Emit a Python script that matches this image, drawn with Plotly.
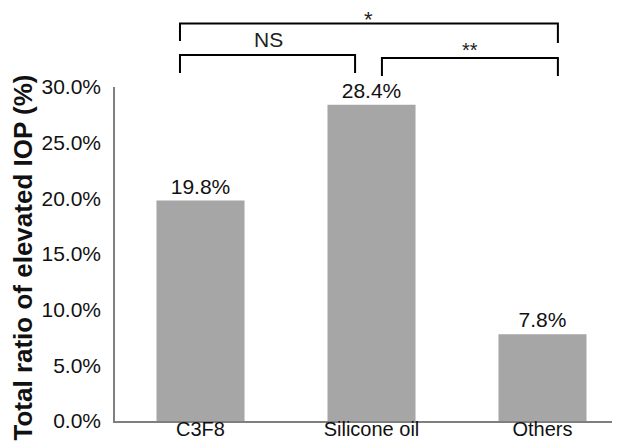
import plotly.graph_objects as go

categories = ["C3F8", "Silicone oil", "Others"]
values = [19.8, 28.4, 7.8]
value_labels = ["19.8%", "28.4%", "7.8%"]
y_ticks = [0, 5, 10, 15, 20, 25, 30]
y_tick_labels = ["0.0%", "5.0%", "10.0%", "15.0%", "20.0%", "25.0%", "30.0%"]

# significance brackets: (x0, x1, y_top, y_left_end, y_right_end, label, label_x, label_y, anchor, size)
brackets = [
    (-0.12, 2.09, 1.190, 1.138, 1.132, "*", 0.98, 1.246, "top", 22),
    (-0.12, 0.904, 1.096, 1.042, 1.042, "NS", 0.395, 1.141, "middle", 21),
    (1.061, 2.09, 1.087, 1.033, 1.033, "**", 1.576, 1.112, "middle", 20),
]

FONT = "Arial, Liberation Sans, sans-serif"

fig = go.Figure()
fig.add_trace(go.Bar(
    x=categories, y=values, text=value_labels, textposition="outside",
    textfont=dict(size=21, color="#111111", family=FONT),
    marker=dict(color="#a6a6a6", line=dict(width=0)),
    width=0.515, cliponaxis=False,
))

shapes = []
annotations = []
for x0, x1, yt, yl, yr, lab, lx, ly, anc, sz in brackets:
    shapes.append(dict(type="path", xref="x", yref="paper",
                       path=f"M {x0},{yl} L {x0},{yt} L {x1},{yt} L {x1},{yr}",
                       line=dict(color="black", width=2)))
    annotations.append(dict(text=lab, xref="x", yref="paper", x=lx, y=ly,
                            showarrow=False, xanchor="center", yanchor=anc,
                            font=dict(size=sz, color="#222222", family=FONT)))

annotations.append(dict(text="<b>Total ratio of elevated IOP (%)</b>", textangle=-90,
                        xref="paper", yref="paper", x=-0.179, y=0.49,
                        xanchor="center", yanchor="middle", showarrow=False,
                        font=dict(size=26, color="#111111", family=FONT)))

fig.update_layout(
    width=620, height=441,
    margin=dict(l=107, r=0, t=79, b=28, autoexpand=False),
    paper_bgcolor="white", plot_bgcolor="white",
    showlegend=False,
    shapes=shapes, annotations=annotations,
    font=dict(family=FONT, color="#111111"),
)
fig.update_xaxes(range=[-0.5, 2.5], showline=True, linecolor="#7f7f7f", linewidth=1.5,
                 ticks="", showgrid=False, zeroline=False, automargin=False,
                 ticklabelstandoff=-11,
                 tickfont=dict(size=20, family=FONT, color="#111111"))
fig.update_yaxes(range=[0, 30], tickvals=y_ticks, ticktext=y_tick_labels,
                 showline=True, linecolor="#7f7f7f", linewidth=1.5,
                 ticks="", showgrid=False, zeroline=False, automargin=False,
                 ticklabelstandoff=8,
                 tickfont=dict(size=21, family=FONT, color="#111111"))

fig.write_html("out.html")
